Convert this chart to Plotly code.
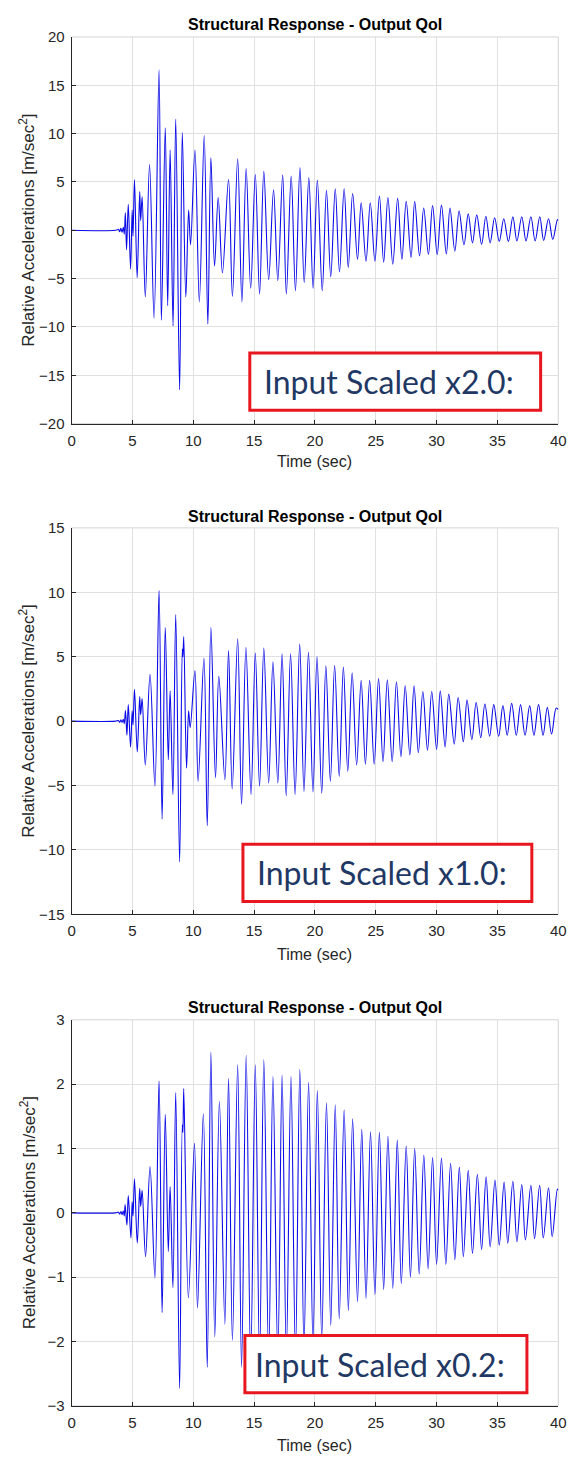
import plotly.graph_objects as go

W, H = 579, 1464

# ---------------- data: response extrema (time [s], acceleration [m/s^2]) ----------------
time_x20 = [0, 3.6, 3.85, 3.95, 4.05, 4.15, 4.25, 4.33,
            4.42, 4.52, 4.66, 4.85, 4.98, 5.05, 5.17, 5.39, 5.6, 5.68, 5.8, 6.06, 6.41, 6.78,
            7.19, 7.38, 7.7, 7.9, 8.1, 8.34, 8.56, 8.88, 9.1, 9.39, 9.62, 9.78, 10.14, 10.5,
            10.9, 11.2, 11.45, 11.75, 12.05, 12.4, 12.9, 13.22, 13.65, 14.0, 14.35, 14.72,
            15.1, 15.45, 15.8, 16.2, 16.6, 16.95, 17.35, 17.65, 18.05, 18.4, 18.77, 19.12,
            19.5, 19.85, 20.2, 20.6, 20.95, 21.3, 21.67, 22.02, 22.4, 22.74, 23.1, 23.5,
            23.8, 24.2, 24.55, 24.93, 25.3, 25.65, 26.0, 26.4, 26.8, 27.15, 27.5, 27.9,
            28.2, 28.6, 28.94, 29.33, 29.67, 30.05, 30.4, 30.8, 31.1, 31.5, 31.85, 32.25,
            32.6, 32.95, 33.3, 33.7, 34.05, 34.4, 34.77, 35.15, 35.52, 35.9, 36.27, 36.6,
            37.0, 37.35, 37.75, 38.1, 38.48, 38.8, 39.2, 39.55, 39.93, 40.0]
accel_x20 = [0, 0, 0.1, -0.15, 0.2, -0.2, 0.3, -0.4,
             1.8, -2.0, 2.7, -4.0, 2.1, -0.6, 5.25, -4.9, 4.0, 1.0, 3.5, -6.9, 6.8, -9.1,
             16.6, -9.3, 10.6, -7.8, 8.3, -9.9, 11.5, -16.5, 10.1, -6.9, 2.1, -1.5, 8.3, -7.4,
             9.8, -9.7, 7.5, -3.7, 3.4, -4.4, 5.25, -6.85, 7.4, -7.4, 6.4, -6.0,
             5.8, -6.6, 6.1, -5.1, 4.2, -5.2, 5.75, -6.6, 5.6, -6.25, 6.5, -5.4,
             5.45, -6.0, 5.2, -6.25, 4.15, -4.8, 4.3, -4.3, 4.3, -3.85, 3.8, -3.0,
             2.85, -3.2, 2.85, -3.2, 3.55, -3.3, 3.4, -3.5, 3.3, -3.0, 3.0, -2.8,
             3.0, -2.65, 2.3, -2.5, 2.55, -2.5, 2.6, -2.45, 2.3, -2.15, 2.0, -1.5,
             1.7, -1.3, 1.6, -1.45, 1.45, -1.3, 1.3, -1.15, 1.2, -1.15, 1.4, -1.1,
             1.4, -1.1, 1.4, -1.1, 1.4, -1.05, 1.2, -0.95, 1.1, 1.05]

time_x10 = [0, 3.6, 3.85, 3.95, 4.05, 4.15, 4.25, 4.33,
            4.43, 4.55, 4.66, 4.85, 4.98, 5.05, 5.17, 5.4, 5.6, 5.68, 5.8, 6.06, 6.45, 6.85,
            7.19, 7.44, 7.7, 7.95, 8.1, 8.33, 8.56, 8.88, 9.1, 9.15, 9.22, 9.45, 9.62, 9.75,
            10.14, 10.4, 10.88, 11.15, 11.45, 11.83, 12.1, 12.6, 12.9, 13.2, 13.65, 13.97,
            14.33, 14.75, 15.1, 15.45, 15.8, 16.2, 16.55, 16.95, 17.3, 17.64, 18.0, 18.37,
            18.75, 19.1, 19.47, 19.84, 20.17, 20.56, 20.9, 21.27, 21.62, 22.0, 22.34, 22.7,
            23.06, 23.43, 23.8, 24.15, 24.5, 24.87, 25.23, 25.6, 25.95, 26.35, 26.7, 27.07,
            27.42, 27.8, 28.15, 28.5, 28.87, 29.25, 29.6, 30.0, 30.3, 30.7, 31.0, 31.45,
            31.77, 32.2, 32.5, 32.9, 33.25, 33.63, 33.97, 34.36, 34.7, 35.1, 35.45, 35.8,
            36.17, 36.55, 36.9, 37.27, 37.65, 38.0, 38.38, 38.75, 39.1, 39.45, 39.83, 40.0]
accel_x10 = [0, 0, 0.05, -0.1, 0.1, -0.1, 0.15, -0.2,
             0.82, -1.1, 1.28, -2.0, 0.8, -0.3, 2.48, -2.4, 1.9, 0.5, 1.75, -3.4, 3.63, -5.05,
             10.14, -7.6, 7.26, -3.0, 2.35, -5.7, 8.28, -10.93, 5.6, 5.0, 6.57, -3.65, 0.8, -0.5,
             3.93, -4.67, 4.9, -8.12, 7.26, -4.4, 3.5, -4.54, 5.47, -5.26, 6.39, -6.46,
             5.72, -5.7, 5.29, -5.05, 5.67, -4.8, 4.6, -4.8, 5.23, -5.8, 5.23, -5.7,
             5.98, -5.45, 5.35, -5.5, 5.0, -5.6, 4.3, -4.67, 4.34, -4.3, 4.2, -3.9,
             3.75, -3.4, 3.16, -3.35, 3.16, -3.35, 3.3, -3.15, 3.2, -3.15, 3.06, -2.76,
             2.75, -2.63, 2.75, -2.45, 2.3, -2.25, 2.3, -2.2, 2.35, -2.0, 2.1, -1.78,
             1.84, -1.6, 1.63, -1.43, 1.45, -1.28, 1.33, -1.17, 1.28, -1.17, 1.2, -1.1,
             1.38, -1.1, 1.28, -1.1, 1.2, -1.1, 1.28, -1.1, 1.07, -1.0, 1.02, 0.9]

time_x02 = [0, 3.6, 3.85, 3.95, 4.05, 4.15, 4.25, 4.33,
            4.4, 4.55, 4.66, 4.88, 4.98, 5.05, 5.17, 5.4, 5.6, 5.68, 5.8, 6.08, 6.45, 6.85,
            7.19, 7.44, 7.7, 7.95, 8.1, 8.33, 8.56, 8.88, 9.1, 9.15, 9.22, 9.6, 10.1, 10.35,
            10.83, 11.15, 11.45, 11.77, 12.15, 12.6, 12.9, 13.22, 13.65, 13.97, 14.35, 14.72,
            15.1, 15.45, 15.8, 16.2, 16.55, 16.95, 17.3, 17.65, 18.03, 18.4, 18.76, 19.1,
            19.48, 19.84, 20.2, 20.56, 20.95, 21.3, 21.67, 22.0, 22.4, 22.75, 23.1, 23.5,
            23.85, 24.2, 24.57, 24.93, 25.3, 25.65, 26.0, 26.4, 26.77, 27.1, 27.5, 27.85,
            28.2, 28.57, 28.95, 29.3, 29.67, 30.0, 30.4, 30.76, 31.15, 31.5, 31.87, 32.2,
            32.6, 32.95, 33.35, 33.7, 34.07, 34.4, 34.8, 35.15, 35.55, 35.85, 36.27, 36.6,
            37.0, 37.3, 37.75, 38.05, 38.47, 38.77, 39.2, 39.5, 39.93, 40.0]
accel_x02 = [0, 0, 0.01, -0.02, 0.02, -0.03, 0.03, -0.05,
             0.13, -0.19, 0.27, -0.39, 0.17, -0.05, 0.53, -0.47, 0.38, 0.1, 0.35, -0.68, 0.72, -1.01,
             2.05, -1.55, 1.53, -0.6, 0.41, -1.16, 1.87, -2.73, 1.37, 1.25, 1.93, -1.32, 1.08, -1.48,
             1.54, -2.4, 2.5, -1.93, 1.73, -1.73, 2.09, -1.98, 2.3, -2.4, 2.45, -2.35,
             2.3, -2.3, 2.38, -2.3, 2.12, -2.25, 2.14, -2.2, 2.12, -2.2, 2.23, -2.1,
             2.03, -2.05, 1.9, -1.95, 1.71, -1.75, 1.68, -1.65, 1.6, -1.52, 1.46, -1.38,
             1.3, -1.33, 1.26, -1.27, 1.25, -1.19, 1.19, -1.17, 1.13, -1.1, 1.04, -1.0,
             1.0, -0.95, 0.9, -0.87, 0.86, -0.8, 0.85, -0.8, 0.77, -0.73, 0.71, -0.68,
             0.66, -0.63, 0.6, -0.57, 0.56, -0.53, 0.51, -0.5, 0.48, -0.47, 0.49, -0.45,
             0.44, -0.42, 0.43, -0.4, 0.43, -0.39, 0.39, -0.37, 0.37, 0.35]

y_ranges = [[-20, 20], [-15, 15], [-3, 3]]
y_dticks = [5, 5, 1]
x_ticks = [0, 5, 10, 15, 20, 25, 30, 35, 40]
box_labels = ["Input Scaled x2.0:", "Input Scaled x1.0:", "Input Scaled x0.2:"]
chart_title = "Structural Response - Output QoI"
x_title = "Time (sec)"
y_title = "Relative Accelerations [m/sec<sup>2</sup>]"

# ---------------- layout geometry (pixels) ----------------
PLOT_L, PLOT_R = 69, 566
plot_tb = [(28.3, 419.5), (525.0, 916.0), (1022.7, 1413.3)]
title_y = [16, 513, 1010]
xlabel_y = [458, 957, 1453]
label_boxes = [(251, 348, 548, 406), (244, 845, 539, 903), (246, 1342, 534, 1400)]
text_dx = -6

def px_x(px):
    return px / W

def px_y(py):
    return 1 - py / H

AXIS_COL = "#262626"
GRID_COL = "#e0e0e0"
LINE_COL = "rgb(12,12,232)"
FONT = "Liberation Sans, Arial, sans-serif"

series = [(time_x20, accel_x20), (time_x10, accel_x10), (time_x02, accel_x02)]

fig = go.Figure()
shapes = []
annotations = []

for i, (t, a) in enumerate(series):
    sfx = "" if i == 0 else str(i + 1)
    fig.add_trace(go.Scatter(
        x=t, y=a, mode="lines", xaxis="x" + sfx, yaxis="y" + sfx,
        line=dict(color=LINE_COL, width=1.1, shape="spline", smoothing=1.0),
        hoverinfo="skip", showlegend=False,
    ))
    top, bot = plot_tb[i]
    fig.update_layout({
        "xaxis" + sfx: dict(
            domain=[px_x(PLOT_L), px_x(PLOT_R)], anchor="y" + sfx,
            range=[0, 40], tickvals=x_ticks, ticks="inside", ticklen=4,
            tickcolor=AXIS_COL, showline=True, linecolor=AXIS_COL, linewidth=1,
            showgrid=True, gridcolor=GRID_COL, gridwidth=1, zeroline=False,
            tickfont=dict(family=FONT, size=15, color=AXIS_COL),
            ticklabelstandoff=3,
        ),
        "yaxis" + sfx: dict(
            domain=[px_y(bot), px_y(top)], anchor="x" + sfx,
            range=y_ranges[i], dtick=y_dticks[i], ticks="inside", ticklen=4,
            tickcolor=AXIS_COL, showline=True, linecolor=AXIS_COL, linewidth=1,
            showgrid=True, gridcolor=GRID_COL, gridwidth=1, zeroline=False,
            tickfont=dict(family=FONT, size=15, color=AXIS_COL),
            ticklabelstandoff=3,
        ),
    })
    # light frame on the top and right sides
    shapes.append(dict(type="rect", xref="x" + sfx + " domain", yref="y" + sfx + " domain",
                       x0=0, x1=1, y0=0, y1=1, line=dict(color="#d5d5d5", width=1),
                       layer="below"))
    # labelled box
    bx0, by0, bx1, by1 = label_boxes[i]
    shapes.append(dict(type="rect", xref="paper", yref="paper",
                       x0=px_x(bx0), x1=px_x(bx1), y0=px_y(by1), y1=px_y(by0),
                       fillcolor="white", line=dict(color="#e8171f", width=3),
                       layer="above"))
    annotations.append(dict(text=box_labels[i], xref="paper", yref="paper",
                            x=px_x((bx0 + bx1) / 2 + text_dx), y=px_y((by0 + by1) / 2),
                            xanchor="center", yanchor="middle", showarrow=False,
                            font=dict(family="Lato, Open Sans, sans-serif", size=32,
                                      color="#1f3864")))
    cx = (PLOT_L + PLOT_R) / 2
    annotations.append(dict(text="<b>" + chart_title + "</b>", xref="paper", yref="paper",
                            x=px_x(cx), y=px_y(title_y[i]), xanchor="center",
                            yanchor="middle", showarrow=False,
                            font=dict(family=FONT, size=16, color="black")))
    annotations.append(dict(text=x_title, xref="paper", yref="paper",
                            x=px_x(cx), y=px_y(xlabel_y[i]), xanchor="center",
                            yanchor="middle", showarrow=False,
                            font=dict(family=FONT, size=16, color=AXIS_COL)))
    annotations.append(dict(text=y_title, xref="paper", yref="paper", textangle=-90,
                            x=px_x(24), y=px_y((top + bot) / 2), xanchor="center",
                            yanchor="middle", showarrow=False,
                            font=dict(family=FONT, size=17, color=AXIS_COL)))

fig.update_layout(
    width=W, height=H, autosize=False,
    margin=dict(l=0, r=0, t=0, b=0),
    paper_bgcolor="white", plot_bgcolor="white",
    shapes=shapes, annotations=annotations, showlegend=False,
)

fig.write_html("out.html")
